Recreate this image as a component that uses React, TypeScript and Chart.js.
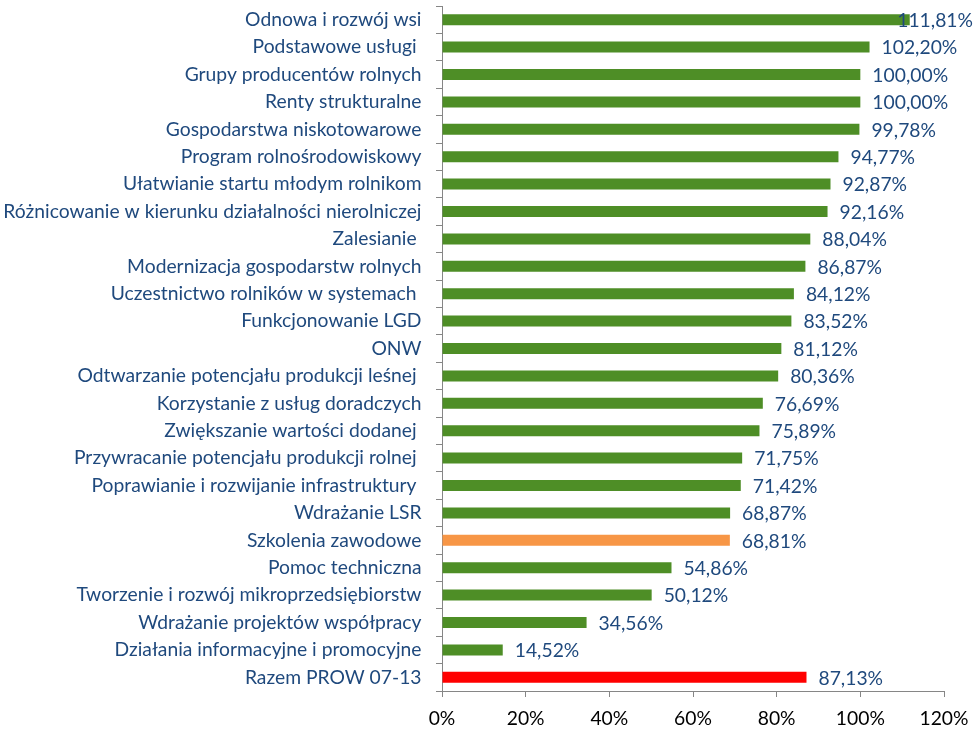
import React, { useEffect, useRef } from "react";
import { Chart, registerables } from "chart.js";

Chart.register(...registerables);

const categories: string[] = [
  "Odnowa i rozwój wsi",
  "Podstawowe usługi ",
  "Grupy producentów rolnych",
  "Renty strukturalne",
  "Gospodarstwa niskotowarowe",
  "Program rolnośrodowiskowy",
  "Ułatwianie startu młodym rolnikom",
  "Różnicowanie w kierunku działalności nierolniczej",
  "Zalesianie ",
  "Modernizacja gospodarstw rolnych",
  "Uczestnictwo rolników w systemach ",
  "Funkcjonowanie LGD",
  "ONW",
  "Odtwarzanie potencjału produkcji leśnej ",
  "Korzystanie z usług doradczych",
  "Zwiększanie wartości dodanej ",
  "Przywracanie potencjału produkcji rolnej ",
  "Poprawianie i rozwijanie infrastruktury ",
  "Wdrażanie LSR",
  "Szkolenia zawodowe",
  "Pomoc techniczna",
  "Tworzenie i rozwój mikroprzedsiębiorstw",
  "Wdrażanie projektów współpracy",
  "Działania informacyjne i promocyjne",
  "Razem PROW 07-13",
];

const values: number[] = [
  111.81, 102.2, 100.0, 100.0, 99.78, 94.77, 92.87, 92.16, 88.04, 86.87, 84.12,
  83.52, 81.12, 80.36, 76.69, 75.89, 71.75, 71.42, 68.87, 68.81, 54.86, 50.12,
  34.56, 14.52, 87.13,
];

const xTicks: number[] = [0, 20, 40, 60, 80, 100, 120];

const orangeCategory = "Szkolenia zawodowe";
const redCategory = "Razem PROW 07-13";

const GREEN = "#4E8E26";
const ORANGE = "#F79646";
const RED = "#FF0000";
const TEXT_BLUE = "#1F497D";
const AXIS_GRAY = "#868686";
const FONT = "Lato, 'Liberation Sans', sans-serif";
const FONT_SIZE = 19.3;

const fmt = (v: number) => v.toFixed(2).replace(".", ",") + "%";

const dataLabels = {
  id: "dataLabels",
  afterDatasetsDraw(chart: any) {
    const ctx = chart.ctx;
    const meta = chart.getDatasetMeta(0);
    ctx.save();
    ctx.font = `${FONT_SIZE}px ${FONT}`;
    ctx.fillStyle = TEXT_BLUE;
    ctx.textAlign = "left";
    ctx.textBaseline = "middle";
    meta.data.forEach((el: any, i: number) => {
      const text = fmt(values[i]);
      const w = ctx.measureText(text).width;
      const x = Math.min(el.x + 12, chart.width - 7 - w);
      ctx.fillText(text, x, el.y + 1);
    });
    ctx.restore();
  },
};

export default function App() {
  const ref = useRef<HTMLCanvasElement | null>(null);

  useEffect(() => {
    document.body.style.margin = "0";
    const canvas = ref.current;
    if (!canvas) return;
    const colors = categories.map((c) =>
      c === orangeCategory ? ORANGE : c === redCategory ? RED : GREEN
    );
    const chart = new Chart(canvas, {
      type: "bar",
      data: {
        labels: categories,
        datasets: [
          {
            data: values,
            backgroundColor: colors,
            borderWidth: 0,
            categoryPercentage: 1,
            barPercentage: 0.4,
          },
        ],
      },
      options: {
        indexAxis: "y",
        responsive: false,
        animation: false,
        maintainAspectRatio: false,
        layout: { padding: { top: 6, right: 36, left: 0, bottom: 0 } },
        plugins: {
          legend: { display: false },
          tooltip: { enabled: false },
        },
        scales: {
          x: {
            min: xTicks[0],
            max: xTicks[xTicks.length - 1],
            afterBuildTicks: (scale: any) => {
              scale.ticks = xTicks.map((v) => ({ value: v }));
            },
            afterFit: (scale: any) => {
              scale.height = 43;
              scale.paddingLeft = 0;
              scale.paddingRight = 0;
            },
            border: { display: true, color: AXIS_GRAY, width: 1 },
            grid: {
              display: true,
              drawOnChartArea: false,
              drawTicks: true,
              tickLength: 6,
              color: AXIS_GRAY,
            },
            ticks: {
              padding: 10,
              color: "#000000",
              font: { family: FONT, size: FONT_SIZE },
              maxRotation: 0,
              callback: (v: any) => `${v}%`,
            },
          },
          y: {
            afterFit: (scale: any) => {
              scale.width = 442;
              scale.paddingTop = 0;
              scale.paddingBottom = 0;
            },
            border: { display: true, color: AXIS_GRAY, width: 1 },
            grid: {
              display: true,
              drawOnChartArea: false,
              drawTicks: true,
              tickLength: 6,
              color: AXIS_GRAY,
              offset: true,
            },
            ticks: {
              padding: 14.5,
              autoSkip: false,
              color: TEXT_BLUE,
              font: { family: FONT, size: FONT_SIZE },
            },
          },
        },
      },
      plugins: [dataLabels],
    });
    return () => chart.destroy();
  }, []);

  return (
    <div style={{ position: "absolute", left: 0, top: 0, width: 980, height: 734 }}>
      <canvas ref={ref} width={980} height={734} />
    </div>
  );
}
